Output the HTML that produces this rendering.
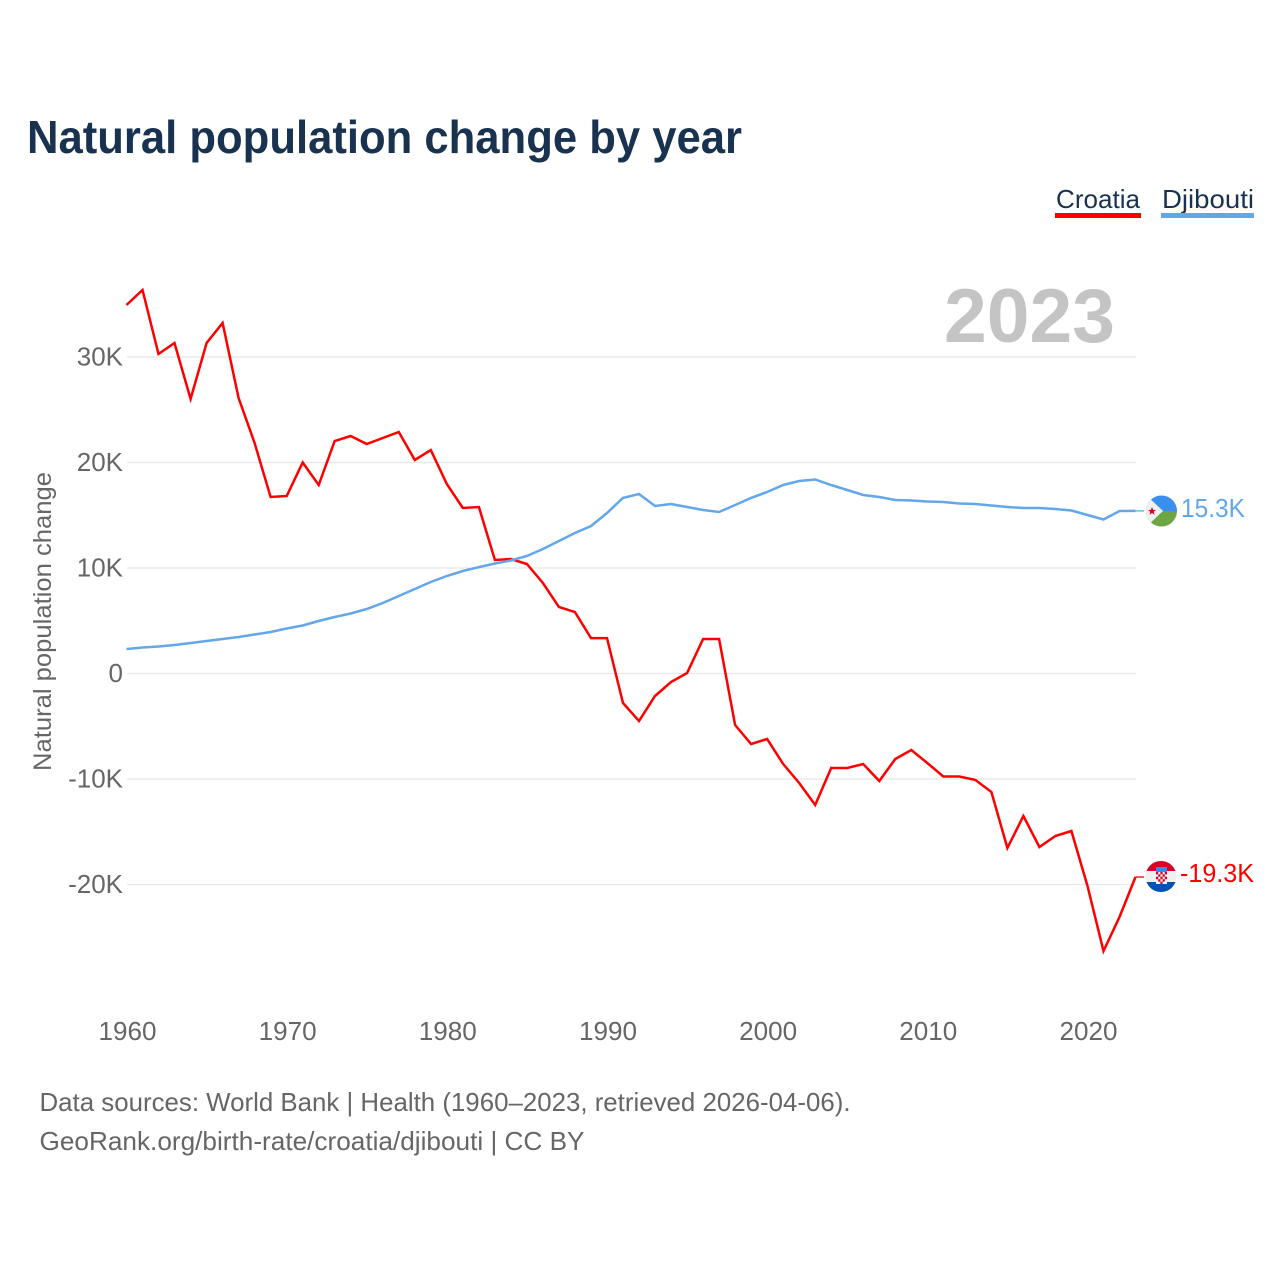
<!DOCTYPE html>
<html lang="en">
<head>
<meta charset="utf-8">
<title>Natural population change by year</title>
<style>
html,body{margin:0;padding:0;background:#fff;width:1280px;height:1280px;overflow:hidden}
svg{display:block}
text{font-family:"Liberation Sans",sans-serif}
.tick{font-size:26px;fill:#666}
.foot{font-size:26px;fill:#666}
.legend{font-size:26px;fill:#18324f}
</style>
</head>
<body>
<svg id="chart" width="1280" height="1280" viewBox="0 0 1280 1280" xmlns="http://www.w3.org/2000/svg">
  <defs>
    <clipPath id="clip-dj"><circle cx="1161.5" cy="511" r="15.5"/></clipPath>
    <clipPath id="clip-hr"><circle cx="1161" cy="876.5" r="15.5"/></clipPath>
  </defs>
  <text x="27" y="153" font-size="46" font-weight="700" fill="#18324f" textLength="715" lengthAdjust="spacingAndGlyphs">Natural population change by year</text>

  <g>
    <text class="legend" x="1056" y="208" textLength="84" lengthAdjust="spacingAndGlyphs">Croatia</text>
    <rect x="1055" y="213" width="86" height="5" fill="#ff0000"/>
  </g>
  <g>
    <text class="legend" x="1162" y="208" textLength="92" lengthAdjust="spacingAndGlyphs">Djibouti</text>
    <rect x="1161" y="213" width="93" height="5" fill="#63a7eb"/>
  </g>

  <text x="944" y="342" font-size="76" font-weight="700" fill="#c4c4c4" textLength="171" lengthAdjust="spacingAndGlyphs">2023</text>

  <text transform="translate(51 771) rotate(-90)" font-size="25" fill="#666" textLength="299" lengthAdjust="spacingAndGlyphs">Natural population change</text>

  <g id="grid"></g>
  <g id="y-labels"></g>
  <g id="x-labels"></g>
  <g id="series"></g>

  <g clip-path="url(#clip-dj)">
    <rect x="1146" y="495" width="31" height="16" fill="#3a8ff0"/>
    <rect x="1146" y="511" width="31" height="16" fill="#6da544"/>
    <polygon points="1144,493 1163,511 1144,529" fill="#f0f0f0"/>
    <polygon points="1152,507 1153.1,509.9 1156,510 1153.7,511.8 1154.5,514.7 1152,513 1149.5,514.7 1150.3,511.8 1148,510 1150.9,509.9" fill="#d80027"/>
  </g>
  <g clip-path="url(#clip-hr)">
    <rect x="1145" y="861" width="32" height="11" fill="#d80027"/>
    <rect x="1145" y="871" width="32" height="11" fill="#f0f0f0"/>
    <rect x="1145" y="882" width="32" height="11" fill="#0052b4"/>
    <rect x="1156" y="867" width="11" height="5" fill="#338af3"/>
    <rect x="1156" y="872" width="11" height="12" fill="#f0f0f0"/>
    <path d="M1156 872h2.2v2.4h-2.2zM1160.4 872h2.2v2.4h-2.2zM1164.8 872h2.2v2.4h-2.2zM1158.2 874.4h2.2v2.4h-2.2zM1162.6 874.4h2.2v2.4h-2.2zM1156 876.8h2.2v2.4h-2.2zM1160.4 876.8h2.2v2.4h-2.2zM1164.8 876.8h2.2v2.4h-2.2zM1158.2 879.2h2.2v2.4h-2.2zM1162.6 879.2h2.2v2.4h-2.2zM1160.4 881.6h2.2v2.4h-2.2z" fill="#d80027"/>
  </g>
  <g id="end-labels"></g>

  <text class="foot" x="39.5" y="1111" textLength="811" lengthAdjust="spacingAndGlyphs">Data sources: World Bank | Health (1960–2023, retrieved 2026-04-06).</text>
  <text class="foot" x="39.5" y="1150" textLength="545" lengthAdjust="spacingAndGlyphs">GeoRank.org/birth-rate/croatia/djibouti | CC BY</text>
</svg>
<script>
const startYear = 1960;
const xTicks = [1960, 1970, 1980, 1990, 2000, 2010, 2020];
const yTicks = [30, 20, 10, 0, -10, -20];
const yTickLabels = ['30K', '20K', '10K', '0', '-10K', '-20K'];
const croatiaValues = [34.93,36.35,30.28,31.33,26.02,31.33,33.22,26.11,21.85,16.73,16.82,20.0,17.87,22.04,22.51,21.75,22.32,22.89,20.24,21.18,17.96,15.69,15.78,10.76,10.85,10.38,8.58,6.30,5.83,3.36,3.36,-2.80,-4.50,-2.13,-0.81,0.05,3.27,3.27,-4.88,-6.68,-6.21,-8.58,-10.38,-12.46,-8.96,-8.96,-8.58,-10.19,-8.10,-7.25,-8.48,-9.76,-9.76,-10.09,-11.23,-16.54,-13.51,-16.45,-15.40,-14.93,-20.14,-26.30,-23.08,-19.29];
const djiboutiValues = [2.32,2.46,2.56,2.70,2.89,3.08,3.27,3.46,3.70,3.93,4.27,4.55,4.98,5.36,5.69,6.11,6.68,7.35,8.01,8.67,9.24,9.72,10.09,10.43,10.71,11.14,11.80,12.56,13.32,13.98,15.21,16.64,17.01,15.88,16.07,15.78,15.50,15.31,15.97,16.64,17.20,17.87,18.25,18.39,17.87,17.39,16.92,16.73,16.45,16.40,16.30,16.26,16.11,16.07,15.92,15.78,15.69,15.69,15.59,15.45,15.02,14.60,15.40,15.41];
const croatiaEndLabel = '-19.3K';
const djiboutiEndLabel = '15.3K';

const NS = 'http://www.w3.org/2000/svg';
const xScale = function (year) { return 126.5 + (year - 1960) * 16.016; };
const yScale = function (k) { return 673.5 - k * 10.55; };
const gridGroup = document.getElementById('grid');
const yLabelGroup = document.getElementById('y-labels');
const xLabelGroup = document.getElementById('x-labels');
const seriesGroup = document.getElementById('series');
const endLabelGroup = document.getElementById('end-labels');

yTicks.forEach(function (tick, i) {
  const line = document.createElementNS(NS, 'line');
  
  
  line.setAttribute('x1', 127);
  line.setAttribute('x2', 1136);
  line.setAttribute('y1', yScale(tick));
  line.setAttribute('y2', yScale(tick));
  line.setAttribute('stroke', '#e8e8e8');
  line.setAttribute('stroke-width', '1.3');
  gridGroup.appendChild(line);
  const label = document.createElementNS(NS, 'text');
  
  
  label.setAttribute('class', 'tick');
  label.setAttribute('x', 123);
  label.setAttribute('y', yScale(tick) + 8.5);
  label.setAttribute('text-anchor', 'end');
  label.textContent = yTickLabels[i];
  yLabelGroup.appendChild(label);
});

xTicks.forEach(function (tick) {
  const label = document.createElementNS(NS, 'text');
  
  
  label.setAttribute('class', 'tick');
  label.setAttribute('x', xScale(tick) + 1);
  label.setAttribute('y', 1040);
  label.setAttribute('text-anchor', 'middle');
  label.setAttribute('textLength', 58);
  label.setAttribute('lengthAdjust', 'spacingAndGlyphs');
  label.textContent = String(tick);
  xLabelGroup.appendChild(label);
});

function drawSeries(values, color, lineName, connectorName) {
  const pts = values.map(function (v, i) {
    return xScale(startYear + i).toFixed(1) + ',' + yScale(v).toFixed(1);
  }).join(' ');
  const poly = document.createElementNS(NS, 'polyline');
  
  
  poly.setAttribute('points', pts);
  poly.setAttribute('fill', 'none');
  poly.setAttribute('stroke', color);
  poly.setAttribute('stroke-width', '2.5');
  poly.setAttribute('stroke-linejoin', 'miter');
  seriesGroup.appendChild(poly);
  const lastY = yScale(values[values.length - 1]);
  const conn = document.createElementNS(NS, 'line');
  
  
  conn.setAttribute('x1', xScale(startYear + values.length - 1));
  conn.setAttribute('x2', 1144);
  conn.setAttribute('y1', lastY);
  conn.setAttribute('y2', lastY);
  conn.setAttribute('stroke', color);
  conn.setAttribute('stroke-width', '1.3');
  seriesGroup.appendChild(conn);
}
drawSeries(croatiaValues, '#ff0000', 'croatia-line', 'croatia-connector');
drawSeries(djiboutiValues, '#63a7eb', 'djibouti-line', 'djibouti-connector');

const croatiaLabel = document.createElementNS(NS, 'text');


croatiaLabel.setAttribute('x', 1180);
croatiaLabel.setAttribute('y', 882);
croatiaLabel.setAttribute('font-size', '26');
croatiaLabel.setAttribute('fill', '#ff0000');
croatiaLabel.setAttribute('textLength', '74');
croatiaLabel.setAttribute('lengthAdjust', 'spacingAndGlyphs');
croatiaLabel.textContent = croatiaEndLabel;
endLabelGroup.appendChild(croatiaLabel);

const djiboutiLabel = document.createElementNS(NS, 'text');


djiboutiLabel.setAttribute('x', 1181);
djiboutiLabel.setAttribute('y', 517);
djiboutiLabel.setAttribute('font-size', '26');
djiboutiLabel.setAttribute('fill', '#63a7eb');
djiboutiLabel.setAttribute('textLength', '64');
djiboutiLabel.setAttribute('lengthAdjust', 'spacingAndGlyphs');
djiboutiLabel.textContent = djiboutiEndLabel;
endLabelGroup.appendChild(djiboutiLabel);
</script>
</body>
</html>
